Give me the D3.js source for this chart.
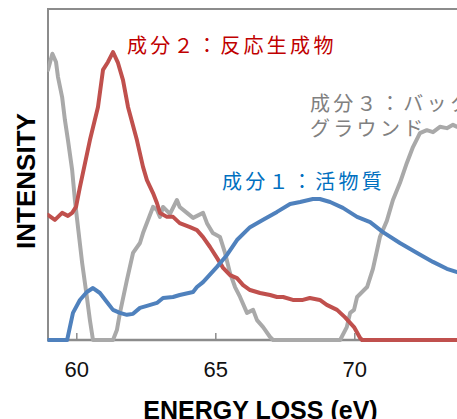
<!DOCTYPE html>
<html>
<head>
<meta charset="utf-8">
<script src="https://cdn.jsdelivr.net/npm/d3@7"></script>
<style>
  html, body { margin: 0; padding: 0; background: #fff; }
  svg { display: block; }
</style>
</head>
<body>
<div id="chart"></div>
<script>
// energy loss (eV) / intensity (a.u., 0-100)
const blueE = [58.98, 59.67, 59.88, 60.13, 60.38, 60.60, 60.85, 61.10, 61.32, 61.57, 61.82, 62.04, 62.29, 62.54, 62.90, 63.12, 63.48, 63.72, 64.20, 64.34, 64.56, 65.06, 65.42, 65.78, 66.25, 66.72, 67.22, 67.69, 68.05, 68.51, 68.76, 69.13, 69.59, 70.10, 70.57, 71.03, 71.64, 72.26, 72.83, 73.33, 73.70, 74.0];
const blueV = [0, 0, 8.2, 12.1, 14.5, 15.7, 14.2, 11.5, 9.1, 8.2, 7.6, 7.9, 9.7, 10.3, 11.2, 12.7, 13.0, 13.6, 14.5, 16.0, 17.5, 22.1, 25.7, 30.2, 34.1, 36.3, 38.7, 41.1, 41.7, 42.6, 42.6, 41.7, 39.9, 37.2, 35.6, 32.6, 29.3, 26.3, 23.6, 21.5, 20.5, 19.9];

const redE = [58.98, 59.23, 59.49, 59.70, 59.85, 59.99, 60.13, 60.49, 60.78, 60.96, 61.14, 61.32, 61.50, 61.68, 61.86, 62.18, 62.40, 62.54, 62.76, 62.90, 63.01, 63.26, 63.48, 63.72, 64.09, 64.34, 64.56, 64.81, 65.06, 65.28, 65.53, 65.78, 66.00, 66.25, 66.61, 66.97, 67.22, 67.44, 67.79, 68.15, 68.40, 68.76, 69.01, 69.38, 69.66, 69.99, 70.21, 70.28, 74.0];
const redV = [37.8, 36.3, 38.4, 37.5, 38.4, 40.2, 46.2, 60.4, 70.4, 81.6, 84.0, 87.0, 83.7, 78.5, 70.4, 60.4, 52.3, 48.3, 44.4, 41.4, 38.4, 37.2, 37.2, 35.3, 34.1, 33.2, 31.1, 28.1, 24.8, 21.8, 19.6, 18.7, 16.6, 15.1, 14.2, 13.6, 13.0, 13.0, 12.1, 12.1, 12.7, 12.1, 10.6, 9.1, 6.9, 3.9, 0.6, 0, 0];

const greyE = [58.98, 59.14, 59.27, 59.34, 59.49, 59.59, 59.70, 59.85, 59.95, 60.03, 60.21, 60.38, 60.49, 60.60, 61.32, 61.46, 61.57, 61.82, 62.04, 62.29, 62.40, 62.76, 62.90, 63.01, 63.12, 63.37, 63.62, 63.72, 63.98, 64.20, 64.56, 64.70, 64.91, 65.17, 65.35, 65.53, 65.71, 65.89, 66.14, 66.36, 66.50, 66.72, 66.97, 67.08, 69.49, 69.73, 69.85, 69.99, 70.10, 70.46, 70.67, 70.82, 70.92, 71.17, 71.39, 71.64, 71.89, 72.11, 72.29, 72.36, 72.61, 72.83, 73.08, 73.33, 73.55, 73.70, 74.0];
const greyV = [81.6, 86.5, 84.0, 79.5, 73.4, 66.5, 60.4, 51.4, 42.3, 36.3, 23.3, 13.0, 6.0, 0, 0, 3.0, 8.2, 18.1, 26.3, 29.3, 32.3, 40.2, 39.3, 37.2, 40.2, 38.1, 42.3, 40.2, 38.4, 36.9, 38.4, 35.3, 32.3, 31.1, 26.3, 20.2, 16.0, 13.0, 8.2, 9.1, 6.0, 3.9, 0.9, 0, 0, 3.9, 8.2, 9.1, 13.0, 16.0, 21.5, 27.2, 31.1, 36.0, 42.3, 47.4, 53.5, 58.3, 61.3, 62.5, 63.4, 62.8, 64.4, 64.0, 65.0, 64.4, 65.0];

const xTicks = [60, 65, 70];

const W = 457, H = 419;
const plotL = 48.5, plotR = 465.5, plotT = 9, plotB = 340;

const svg = d3.select('#chart').append('svg').attr('width', W).attr('height', H);

const x = d3.scaleLinear().domain([59, 74]).range([plotL, plotR]);
const y = d3.scaleLinear().domain([0, 100]).range([plotB, plotT]);

svg.append('defs').append('clipPath').attr('id', 'plot')
  .append('rect').attr('x', plotL - 1).attr('y', plotT).attr('width', plotR - plotL + 2).attr('height', plotB - plotT + 3);

// frame + axes
const axisCol = '#8c8c8c';
svg.append('line').attr('x1', plotL - 0.5).attr('x2', W).attr('y1', plotT).attr('y2', plotT)
  .attr('stroke', axisCol).attr('stroke-width', 2);
svg.append('line').attr('x1', plotL - 0.5).attr('x2', plotL - 0.5).attr('y1', plotT - 1).attr('y2', plotB + 1)
  .attr('stroke', axisCol).attr('stroke-width', 2);

const xAxis = d3.axisBottom(x).tickValues(xTicks).tickSize(-7).tickPadding(20).tickFormat(d3.format('d'));
const gx = svg.append('g').attr('transform', `translate(0,${plotB})`).call(xAxis);
gx.select('.domain').attr('d', `M${plotL - 1.5},0H${W}`).attr('stroke', axisCol).attr('stroke-width', 2.5);
gx.selectAll('.tick line').attr('stroke', axisCol).attr('stroke-width', 1.5);
gx.selectAll('.tick text').attr('font-family', '"Liberation Sans", Arial, sans-serif')
  .attr('font-size', 22).attr('fill', '#111').attr('dy', null).attr('y', 37);

// series
const line = d3.line().x(d => x(d[0])).y(d => y(d[1]));
const series = [
  { e: greyE, v: greyV, color: '#a9a9a9' },
  { e: redE, v: redV, color: '#c0504d' },
  { e: blueE, v: blueV, color: '#4f81bd' }
];
const gs = svg.append('g').attr('clip-path', 'url(#plot)');
series.forEach(s => {
  gs.append('path').datum(d3.zip(s.e, s.v)).attr('d', line)
    .attr('fill', 'none').attr('stroke', s.color).attr('stroke-width', 4)
    .attr('stroke-linejoin', 'round').attr('stroke-linecap', 'round');
});

// axis titles
svg.append('text').attr('x', 260.5).attr('y', 419).attr('text-anchor', 'middle')
  .attr('font-family', '"Liberation Sans", Arial, sans-serif').attr('font-weight', 'bold')
  .attr('font-size', 25).attr('fill', '#000').text('ENERGY LOSS (eV)');
svg.append('text').attr('transform', 'translate(26,181) rotate(-90)').attr('text-anchor', 'middle')
  .attr('dominant-baseline', 'central')
  .attr('font-family', '"Liberation Sans", Arial, sans-serif').attr('font-weight', 'bold')
  .attr('font-size', 26).attr('fill', '#000').text('INTENSITY');

// labels
const jp = '"Noto Sans CJK JP", sans-serif';
function label(txt, lx, ly, col) {
  svg.append('text').attr('x', lx).attr('y', ly).attr('dominant-baseline', 'central')
    .attr('font-family', jp).attr('font-size', 20).attr('letter-spacing', 3.3)
    .attr('fill', col).text(txt);
}
label('成分２：反応生成物', 127, 44, '#c00000');
label('成分１：活物質', 222, 180, '#0070c0');
label('成分３：バック', 310, 102, '#808080');
label('グラウンド', 310, 127, '#808080');
</script>
</body>
</html>
